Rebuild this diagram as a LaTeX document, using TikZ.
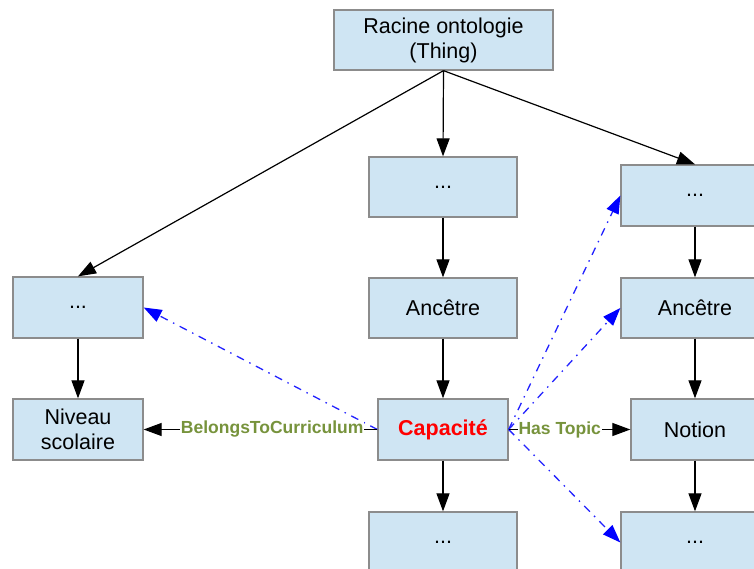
\documentclass[tikz,border=0pt]{standalone}
\usepackage{fontspec}
\setmainfont{Liberation Sans}
\usetikzlibrary{arrows.meta}
\definecolor{boxfill}{HTML}{CFE5F3}
\definecolor{boxline}{HTML}{8C8C8C}
\definecolor{relgreen}{HTML}{77933C}
\definecolor{linkblue}{HTML}{2222FF}

\begin{document}
\begin{tikzpicture}[x=1pt,y=-1pt,
  box/.style={draw=boxline, fill=boxfill, line width=1.3pt,
    minimum width=#1, minimum height=61pt, inner sep=0pt, align=center,
    font=\fontsize{21.5}{25}\selectfont},
  box/.default=148pt,
  isa/.style={-{Triangle[length=18pt,width=13pt]}, line width=1.2pt},
  rellabel/.style={fill=white, text=relgreen, inner sep=1pt,
    font=\bfseries\fontsize{17.5}{20}\selectfont},
  seealso/.style={draw=linkblue, line width=1.3pt,
    dash pattern=on 8pt off 6pt on 1.5pt off 6pt,
    -{Triangle[length=18pt,width=13pt,fill=blue,color=blue]}}
]
\useasboundingbox (0,0) rectangle (754,569);

% root of the ontology
\node[box=219pt, minimum height=60pt] (root) at (443.5,40) {Racine ontologie\\(Thing)};

% middle branch
\node[box, minimum height=60pt] (m1) at (443,187) {...};
\node[box, minimum height=60pt] (m2) at (443,308) {Anc\^etre};
\node[box=130pt, font=\bfseries\fontsize{21.5}{25}\selectfont, text=red] (capa) at (443,429.5) {Capacit\'e};
\node[box] (m4) at (443,542.5) {...};

% left branch
\node[box=130pt] (l1) at (78,307.5) {...};
\node[box=130pt] (niv) at (78,429.5) {Niveau\\scolaire};

% right branch
\node[box] (r1) at (695,195.5) {...};
\node[box, minimum height=60pt] (r2) at (695,308) {Anc\^etre};
\node[box=128pt] (notion) at (695,429.5) {Notion};
\node[box] (r4) at (695,542.5) {...};

% subclass links
\draw[isa] (root.south) -- (m1.north);
\draw[isa] (root.south) -- (l1.north);
\draw[isa] (root.south) -- (r1.north);
\draw[isa] (m1) -- (m2);
\draw[isa] (m2) -- (capa);
\draw[isa] (capa) -- (m4);
\draw[isa] (l1) -- (niv);
\draw[isa] (r1) -- (r2);
\draw[isa] (r2) -- (notion);
\draw[isa] (notion) -- (r4);

% inherited relations
\draw[seealso] (capa.west) -- (l1.east);
\draw[seealso] (capa.east) -- (r1.west);
\draw[seealso] (capa.east) -- (r2.west);
\draw[seealso] (capa.east) -- (r4.west);

% properties
\draw[isa] (capa.west) -- node[rellabel, pos=0.45] (btc) {BelongsToCurriculum} (niv.east);
\draw[isa] (capa.east) -- node[rellabel, pos=0.42] (ht) {Has Topic} (notion.west);
\end{tikzpicture}
\end{document}
